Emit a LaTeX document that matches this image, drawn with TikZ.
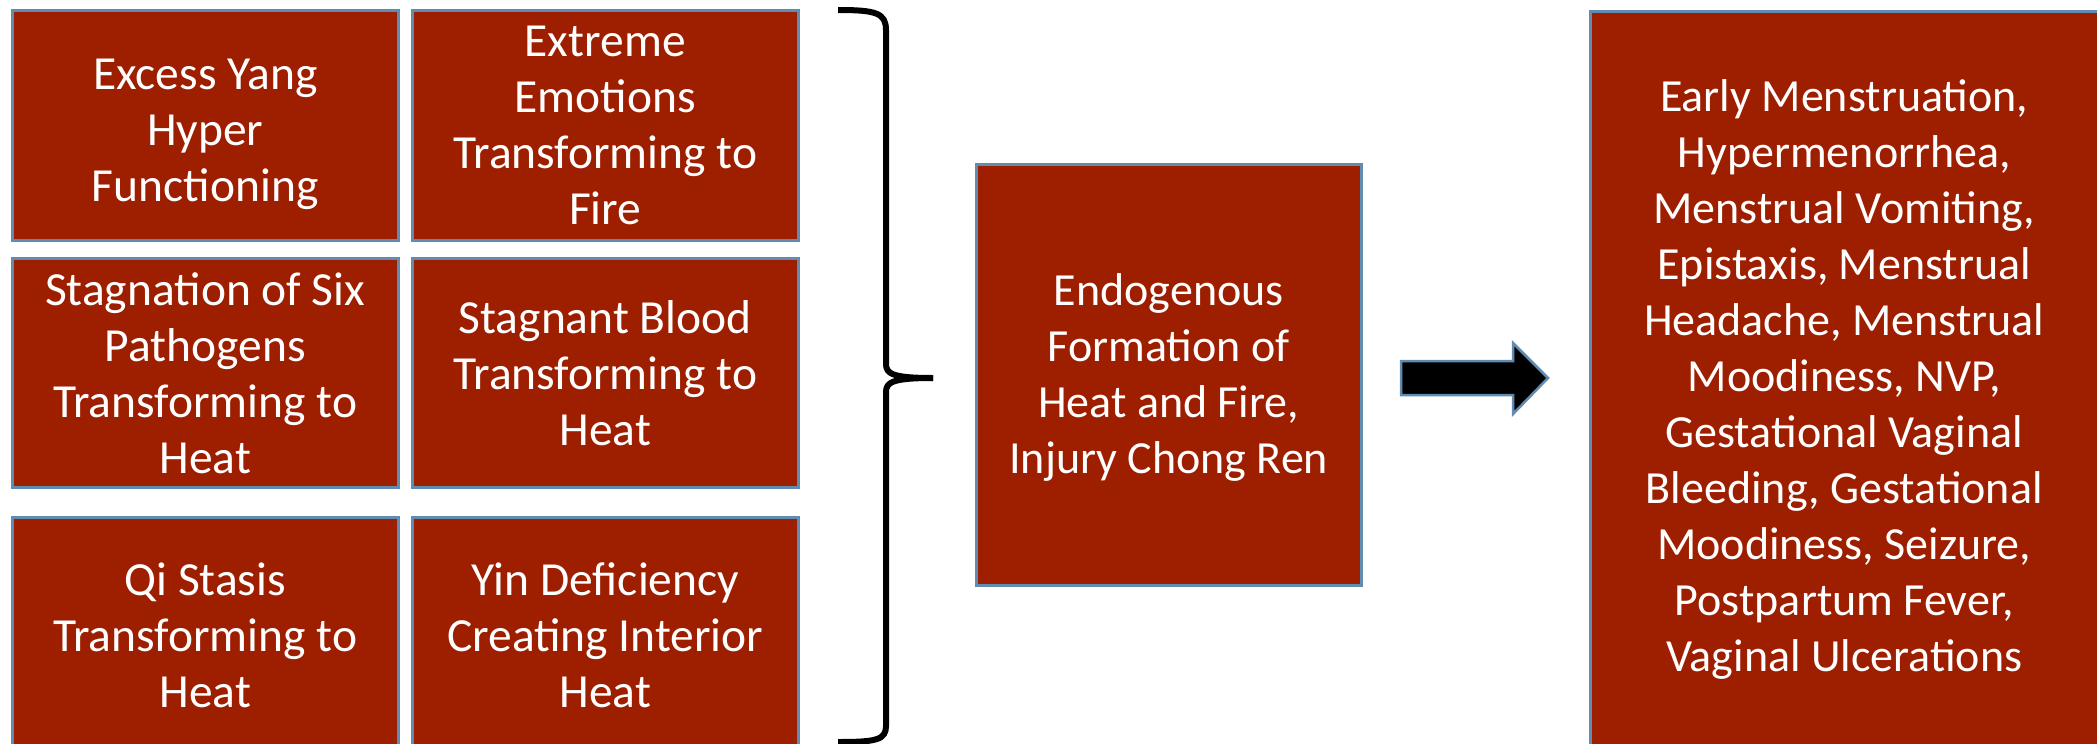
\documentclass[tikz,border=0pt]{standalone}
\usepackage{fontspec}
\setmainfont{Carlito}
\definecolor{boxred}{RGB}{158,31,0}
\definecolor{boxedge}{RGB}{96,140,178}
\tikzset{
  redbox/.style={draw=boxedge, line width=2.5pt, fill=boxred, text=white,
    align=center, inner sep=0pt, anchor=north west,
    font=\fontsize{46pt}{56pt}\selectfont},
  causebox/.style={redbox, minimum width=386pt,
    font=\fontsize{47.5pt}{56pt}\selectfont},
}
\begin{document}
\begin{tikzpicture}[x=1pt,y=-1pt]
\useasboundingbox (0,0) rectangle (2097,744);
% left grid
\node[causebox, minimum height=230pt] (b1) at (11,9) {\rule{0pt}{49pt}Excess Yang\\Hyper\\Functioning};
\node[causebox, minimum height=230pt] (b2) at (411,9) {Extreme\\Emotions\\Transforming to\\Fire};
\node[causebox, minimum height=229pt] (b3) at (11,257) {Stagnation of Six\\Pathogens\\Transforming to\\Heat};
\node[causebox, minimum height=229pt] (b4) at (411,257) {Stagnant Blood\\Transforming to\\Heat};
\node[causebox, minimum height=236pt] (b5) at (11,516) {Qi Stasis\\Transforming to\\Heat};
\node[causebox, minimum height=236pt] (b6) at (411,516) {Yin Deficiency\\Creating Interior\\Heat};
% brace
\draw[line width=6pt, line cap=butt, line join=round]
  (838,10) .. controls (876,10) and (886,13) .. (886,30) -- (886,364)
  .. controls (886,374) and (893,378) .. (933,378);
\draw[line width=6pt, line cap=butt, line join=round]
  (933,378) .. controls (893,378) and (886,382) .. (886,392) -- (886,726)
  .. controls (886,740) and (876,742) .. (838,742);
% middle box
\node[redbox, minimum width=385pt, minimum height=421pt] (mid) at (975,163) {\rule{0pt}{37pt}Endogenous\\Formation of\\Heat and Fire,\\Injury Chong Ren};
% block arrow
\draw[draw=boxedge, line width=2.5pt, fill=black, line join=miter]
  (1401,361) -- (1513,361) -- (1513,343) -- (1548,378) -- (1513,414) -- (1513,395) -- (1401,395) -- cycle;
% right box
\node[redbox, minimum width=508pt, minimum height=736pt] (res) at (1589,10) {Early Menstruation,\\Hypermenorrhea,\\Menstrual Vomiting,\\Epistaxis, Menstrual\\Headache, Menstrual\\Moodiness, NVP,\\Gestational Vaginal\\Bleeding, Gestational\\Moodiness, Seizure,\\Postpartum Fever,\\Vaginal Ulcerations};
\end{tikzpicture}
\end{document}
